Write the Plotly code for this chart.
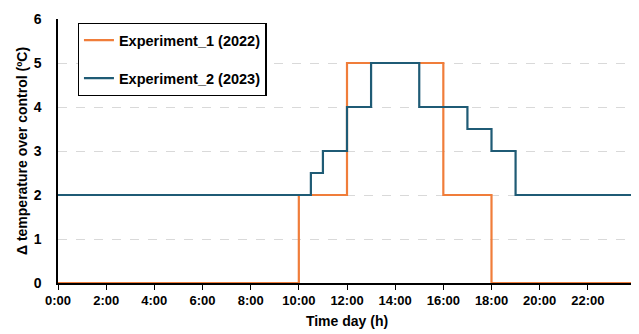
import plotly.graph_objects as go

hours_1 = [0, 10, 12, 16, 18, 24]
values_1 = [0, 2, 5, 2, 0, 0]
hours_2 = [0, 10.5, 11, 12, 13, 15, 17, 18, 19, 24]
values_2 = [2, 2.5, 3, 4, 5, 4, 3.5, 3, 2, 2]
tick_hours = list(range(0, 24, 2))
tick_labels = [f"{h}:00" for h in tick_hours]
names = ["Experiment_1 (2022)", "Experiment_2 (2023)"]
colors = ["#F07D3A", "#1F5B75"]

fig = go.Figure()
fig.add_trace(go.Scatter(x=hours_1, y=values_1, mode="lines", line_shape="hv",
                         line=dict(color=colors[0], width=2.2), name=names[0], legendgroup="a"))
fig.add_trace(go.Scatter(x=hours_2, y=values_2, mode="lines", line_shape="hv",
                         line=dict(color=colors[1], width=2.2), name=names[1], legendgroup="b"))

font_family = "Liberation Sans, Arial, sans-serif"
fig.update_layout(
    width=631, height=326,
    margin=dict(l=50, r=3, t=9, b=51),
    plot_bgcolor="white", paper_bgcolor="white",
    font=dict(family=font_family, size=13, color="black"),
    legend=dict(x=0.034, y=0.985, xanchor="left", yanchor="top",
                bordercolor="black", borderwidth=1.3, bgcolor="white",
                font=dict(size=14.5, family=font_family, weight="bold"),
                tracegroupgap=16, itemwidth=30),
    showlegend=True,
)
fig.update_xaxes(range=[0, 24], tickvals=tick_hours, ticktext=tick_labels,
                 showline=True, linecolor="black", linewidth=1.5,
                 ticks="outside", ticklen=5, tickcolor="black",
                 showgrid=False, zeroline=False,
                 tickfont=dict(size=13, weight="bold"),
                 title=dict(text="Time day (h)", font=dict(size=14, weight="bold"), standoff=9))
fig.update_yaxes(range=[0, 6], dtick=1,
                 showline=True, linecolor="black", linewidth=1.5,
                 ticks="", ticklabelstandoff=12,
                 showgrid=True, gridcolor="#D9D9D9", griddash="dash", gridwidth=1,
                 zeroline=False,
                 tickfont=dict(size=14, weight="bold"),
                 title=dict(text="Δ temperature over control (ºC)", font=dict(size=14, weight="bold"), standoff=3))

fig.write_html("out.html")
